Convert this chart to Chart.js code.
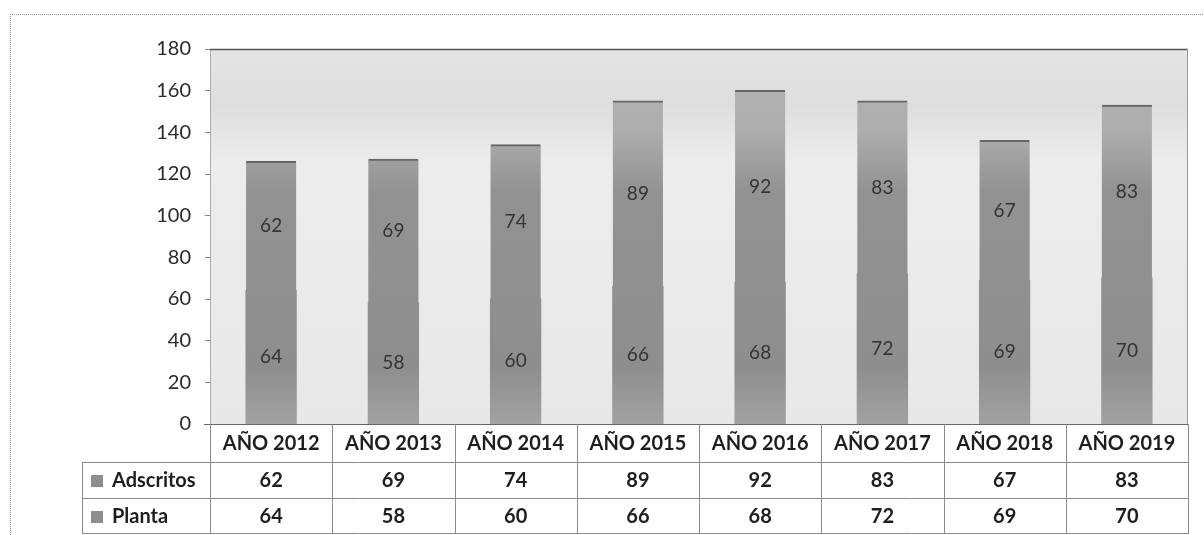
<!DOCTYPE html>
<html>
<head>
<meta charset="utf-8">
<script src="https://cdn.jsdelivr.net/npm/chart.js@4.4.1/dist/chart.umd.min.js"></script>
<style>
  html, body { margin: 0; padding: 0; background: #fff; }
  #wrap { width: 1204px; height: 535px; position: relative; }
</style>
</head>
<body>
<div id="wrap"><canvas id="chart" width="1204" height="535"></canvas></div>
<script>
// ---- data ----
const years     = ['AÑO 2012','AÑO 2013','AÑO 2014','AÑO 2015','AÑO 2016','AÑO 2017','AÑO 2018','AÑO 2019'];
const adscritos = [62, 69, 74, 89, 92, 83, 67, 83];
const planta    = [64, 58, 60, 66, 68, 72, 69, 70];
const yTicksMax = 180;
const yStep     = 20;

const FONT = 'Lato, "Open Sans", sans-serif';
const TABLE_LEFT = 82;

// bar fill: lighter high up, darker in the middle, a bit lighter at the base
function barFill(ctx) {
  const area = ctx.chart.chartArea;
  if (!area) return '#909090';
  const g = ctx.chart.ctx.createLinearGradient(0, area.top, 0, area.bottom);
  g.addColorStop(0,    '#b4b4b4');
  g.addColorStop(0.22, '#adadad');
  g.addColorStop(0.38, '#929292');
  g.addColorStop(0.85, '#8e8e8e');
  g.addColorStop(1,    '#a2a2a2');
  return g;
}

// frame + plot background
const backdrop = {
  id: 'backdrop',
  beforeDraw(chart) {
    const { ctx, chartArea: a } = chart;
    ctx.save();
    // outer dotted frame
    ctx.strokeStyle = '#8a8a8a';
    ctx.lineWidth = 1;
    ctx.setLineDash([1, 1]);
    ctx.beginPath();
    ctx.moveTo(10.5, 535);
    ctx.lineTo(10.5, 14.5);
    ctx.lineTo(1204, 14.5);
    ctx.stroke();
    ctx.setLineDash([]);
    // plot area fill
    const g = ctx.createLinearGradient(0, a.top, 0, a.bottom);
    g.addColorStop(0,    '#e4e4e4');
    g.addColorStop(0.15, '#dedede');
    g.addColorStop(0.3,  '#ececec');
    g.addColorStop(1,    '#e8e8e8');
    ctx.fillStyle = g;
    ctx.fillRect(a.left, a.top, a.right - a.left, a.bottom - a.top);
    ctx.restore();
  },
  afterDatasetsDraw(chart) {
    const { ctx, chartArea: a } = chart;
    ctx.save();
    // plot border: dark top, grey right
    ctx.strokeStyle = '#555';
    ctx.lineWidth = 1.5;
    ctx.beginPath();
    ctx.moveTo(a.left, a.top + 0.5);
    ctx.lineTo(a.right, a.top + 0.5);
    ctx.stroke();
    ctx.strokeStyle = '#9a9a9a';
    ctx.lineWidth = 1;
    ctx.beginPath();
    ctx.moveTo(a.right - 0.5, a.top);
    ctx.lineTo(a.right - 0.5, a.bottom);
    ctx.stroke();
    ctx.strokeStyle = '#666';
    ctx.beginPath();
    ctx.moveTo(a.left - 6, a.bottom + 0.5);
    ctx.lineTo(a.right, a.bottom + 0.5);
    ctx.stroke();

    // value labels centred in each segment
    ctx.font = '19px ' + FONT;
    ctx.fillStyle = '#333';
    ctx.textAlign = 'center';
    ctx.textBaseline = 'middle';
    chart.data.datasets.forEach((ds, i) => {
      chart.getDatasetMeta(i).data.forEach((bar, j) => {
        ctx.fillText(String(ds.data[j]), bar.x, (bar.y + bar.base) / 2);
      });
    });
    ctx.restore();
  }
};

// data table under the axis, laid out from the x scale
const dataTable = {
  id: 'dataTable',
  afterDraw(chart) {
    const { ctx, chartArea: a } = chart;
    const xs = chart.scales.x;
    const n = years.length;
    const colW = (a.right - a.left) / n;
    const rowTop = [a.bottom, a.bottom + 38, a.bottom + 74];
    const rowH = [38, 36, 36];
    const rows = [
      { name: 'Adscritos', values: adscritos },
      { name: 'Planta',    values: planta }
    ];
    ctx.save();
    ctx.strokeStyle = '#8a8a8a';
    ctx.lineWidth = 1;
    ctx.beginPath();
    // vertical separators
    for (let k = 0; k <= n; k++) {
      const x = Math.round(a.left + k * colW) + 0.5;
      ctx.moveTo(x, a.bottom);
      ctx.lineTo(x, rowTop[2] + rowH[2]);
    }
    ctx.moveTo(TABLE_LEFT + 0.5, rowTop[1]);
    ctx.lineTo(TABLE_LEFT + 0.5, rowTop[2] + rowH[2]);
    // horizontal lines
    [rowTop[1], rowTop[2], rowTop[2] + rowH[2] - 1].forEach(y => {
      ctx.moveTo(TABLE_LEFT, Math.round(y) + 0.5);
      ctx.lineTo(a.right, Math.round(y) + 0.5);
    });
    ctx.stroke();

    ctx.fillStyle = '#1e1e1e';
    ctx.textAlign = 'center';
    ctx.textBaseline = 'middle';
    ctx.font = 'bold 20px ' + FONT;
    years.forEach((y, k) => {
      ctx.fillText(y, xs.getPixelForValue(k), rowTop[0] + rowH[0] / 2 + 1);
    });
    rows.forEach((r, ri) => {
      const cy = rowTop[ri + 1] + rowH[ri + 1] / 2 + 1;
      r.values.forEach((v, k) => ctx.fillText(String(v), xs.getPixelForValue(k), cy));
      // legend key + series name
      ctx.fillStyle = '#8e8e8e';
      ctx.fillRect(TABLE_LEFT + 9, cy - 6, 12, 12);
      ctx.fillStyle = '#1e1e1e';
      ctx.textAlign = 'left';
      ctx.fillText(r.name, TABLE_LEFT + 30, cy);
      ctx.textAlign = 'center';
    });
    ctx.restore();
  }
};

new Chart(document.getElementById('chart'), {
  type: 'bar',
  data: {
    labels: years,
    datasets: [
      {
        label: 'Planta',
        data: planta,
        backgroundColor: barFill,
        borderWidth: 0,
        inflateAmount: 0.6
      },
      {
        label: 'Adscritos',
        data: adscritos,
        backgroundColor: barFill,
        borderColor: '#666',
        borderWidth: { top: 2, left: 0, right: 0, bottom: 0 },
        borderSkipped: 'bottom',
        inflateAmount: 0.6
      }
    ]
  },
  options: {
    responsive: false,
    animation: false,
    layout: { padding: { top: 49, right: 16, bottom: 111, left: 0 } },
    datasets: { bar: { categoryPercentage: 1, barPercentage: 0.41 } },
    plugins: { legend: { display: false }, tooltip: { enabled: false } },
    scales: {
      x: { stacked: true, display: false },
      y: {
        stacked: true,
        min: 0,
        max: yTicksMax,
        afterFit(scale) { scale.width = 210; },
        ticks: { stepSize: yStep, color: '#2a2a2a', font: { size: 20, family: FONT }, padding: 14 },
        grid: { drawOnChartArea: false, tickLength: 5, color: '#888' },
        border: { color: '#aaa' }
      }
    }
  },
  plugins: [backdrop, dataTable]
});
</script>
</body>
</html>
